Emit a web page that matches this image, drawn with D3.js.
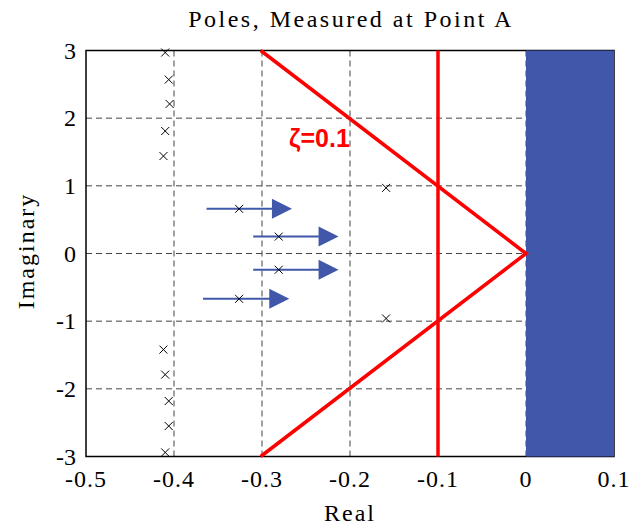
<!DOCTYPE html>
<html>
<head>
<meta charset="utf-8">
<script src="https://cdn.jsdelivr.net/npm/d3@7"></script>
<style>
  body { margin: 0; background: #fff; }
  text { font-family: "Liberation Serif", "Times New Roman", serif; }
</style>
</head>
<body>
<div id="chart"></div>
<script>
// pole locations
const poleRe = [-0.410, -0.406, -0.405, -0.410, -0.412, -0.412, -0.410, -0.406, -0.406, -0.410,
  -0.326, -0.326, -0.281, -0.281, -0.159, -0.159];
const poleIm = [2.97, 2.57, 2.21, 1.81, 1.44, -1.42, -1.79, -2.18, -2.55, -2.94,
  0.66, -0.67, 0.25, -0.24, 0.97, -0.96];

// arrows: start, tip, height
const arrowStart = [-0.363, -0.310, -0.310, -0.367];
const arrowTip = [-0.266, -0.213, -0.213, -0.269];
const arrowIm = [0.66, 0.25, -0.24, -0.67];

const xTicks = [-0.5, -0.4, -0.3, -0.2, -0.1, 0, 0.1];
const yTicks = [-3, -2, -1, 0, 1, 2, 3];
const zeta = 0.1;
const limitRe = -0.1; // vertical red line
const unstable = [0, 0.1];

const width = 633, height = 525;
const blue = '#4157aa';

const svg = d3.select('#chart').append('svg')
  .attr('width', width)
  .attr('height', height);

const x = d3.scaleLinear().domain([-0.5, 0.1]).range([86, 614]);
const y = d3.scaleLinear().domain([-3, 3]).range([456.5, 50.5]);

// grid
const grid = svg.append('g')
  .attr('stroke', '#444')
  .attr('stroke-width', 1)
  .attr('stroke-dasharray', '6,4');
grid.selectAll('.vg')
  .data(xTicks.slice(1, -1))
  .enter().append('line')
  .attr('x1', d => x(d)).attr('x2', d => x(d))
  .attr('y1', y(3)).attr('y2', y(-3));
grid.selectAll('.hg')
  .data(yTicks.slice(1, -1))
  .enter().append('line')
  .attr('x1', x(-0.5)).attr('x2', x(0.1))
  .attr('y1', d => y(d)).attr('y2', d => y(d));

// frame
svg.append('rect')
  .attr('x', x(-0.5)).attr('y', y(3))
  .attr('width', x(0.1) - x(-0.5)).attr('height', y(-3) - y(3))
  .attr('fill', 'none').attr('stroke', '#000').attr('stroke-width', 1.5);

// unstable region
svg.append('rect')
  .attr('x', x(unstable[0])).attr('y', y(3))
  .attr('width', x(unstable[1]) - x(unstable[0]))
  .attr('height', y(-3) - y(3))
  .attr('fill', blue);

// constant damping lines through the origin, reaching the top and bottom edges
const wn = 3 / Math.sqrt(1 - zeta * zeta);
const reAt3 = -zeta * wn;
svg.append('path')
  .datum([[reAt3, 3], [0, 0], [reAt3, -3]])
  .attr('d', d3.line().x(d => x(d[0])).y(d => y(d[1])))
  .attr('fill', 'none').attr('stroke', '#ff0000').attr('stroke-width', 3.5);

svg.append('line')
  .attr('x1', x(limitRe)).attr('x2', x(limitRe))
  .attr('y1', y(3)).attr('y2', y(-3))
  .attr('stroke', '#ff0000').attr('stroke-width', 3.5);

svg.append('text')
  .attr('x', 289).attr('y', 146.5)
  .style('font-family', '"Liberation Sans", Arial, sans-serif')
  .style('font-weight', 'bold')
  .style('font-size', '25px')
  .attr('fill', '#ff0000')
  .text('ζ=' + zeta);

// arrows
const arrows = svg.append('g');
arrowIm.forEach(function (im, i) {
  const tip = x(arrowTip[i]);
  const yy = y(im);
  arrows.append('line')
    .attr('x1', x(arrowStart[i])).attr('x2', tip - 18)
    .attr('y1', yy).attr('y2', yy)
    .attr('stroke', blue).attr('stroke-width', 2);
  arrows.append('path')
    .attr('d', `M${tip - 20},${yy - 10}L${tip},${yy}L${tip - 20},${yy + 10}Z`)
    .attr('fill', blue);
});

// pole markers
const poles = poleRe.map((re, i) => ({ re: re, im: poleIm[i] }));
svg.selectAll('.pole')
  .data(poles)
  .enter().append('path')
  .attr('class', 'pole')
  .attr('transform', d => `translate(${x(d.re)},${y(d.im)})`)
  .attr('d', 'M-4,-4L4,4M-4,4L4,-4')
  .attr('stroke', '#000').attr('stroke-width', 1);

// tick labels (plain hyphen minus, like the original)
svg.selectAll('.xt')
  .data(xTicks)
  .enter().append('text')
  .attr('x', d => x(d)).attr('y', 487)
  .attr('text-anchor', 'middle')
  .style('font-size', '24px')
  .style('letter-spacing', '1px')
  .text(d => String(d));

svg.selectAll('.yt')
  .data(yTicks)
  .enter().append('text')
  .attr('x', 76).attr('y', d => y(d) + 8)
  .attr('text-anchor', 'end')
  .style('font-size', '24px')
  .text(d => String(d));

// titles
svg.append('text')
  .attr('x', 351).attr('y', 27)
  .attr('text-anchor', 'middle')
  .style('font-size', '24px')
  .style('letter-spacing', '2.5px')
  .text('Poles, Measured at Point A');

svg.append('text')
  .attr('x', 350).attr('y', 521)
  .attr('text-anchor', 'middle')
  .style('font-size', '24px')
  .style('letter-spacing', '2px')
  .text('Real');

svg.append('text')
  .attr('transform', 'translate(33.5,251) rotate(-90)')
  .attr('text-anchor', 'middle')
  .style('font-size', '24px')
  .style('letter-spacing', '2px')
  .text('Imaginary');
</script>
</body>
</html>
